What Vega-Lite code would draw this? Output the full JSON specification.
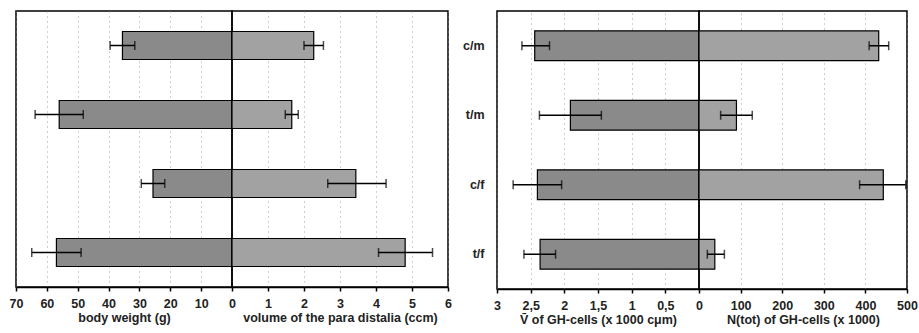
{
  "$schema": "https://vega.github.io/schema/vega-lite/v6.json",
  "background": "white",
  "padding": {"left": 8, "top": 10, "right": 0, "bottom": 5},
  "datasets": {
    "bw": [
      {"g": "c/m", "v": 35.5, "lo": 31.5, "hi": 39.5},
      {"g": "t/m", "v": 56, "lo": 48.2, "hi": 63.8},
      {"g": "c/f", "v": 25.6, "lo": 21.8, "hi": 29.4},
      {"g": "t/f", "v": 56.9, "lo": 48.9, "hi": 64.9}
    ],
    "vol": [
      {"g": "c/m", "v": 2.27, "lo": 2.0, "hi": 2.54},
      {"g": "t/m", "v": 1.66, "lo": 1.48, "hi": 1.84},
      {"g": "c/f", "v": 3.44, "lo": 2.66, "hi": 4.28},
      {"g": "t/f", "v": 4.81, "lo": 4.07, "hi": 5.57}
    ],
    "vgh": [
      {"g": "c/m", "v": 2.44, "lo": 2.22, "hi": 2.63},
      {"g": "t/m", "v": 1.91, "lo": 1.45, "hi": 2.37},
      {"g": "c/f", "v": 2.4, "lo": 2.04, "hi": 2.76},
      {"g": "t/f", "v": 2.36, "lo": 2.13, "hi": 2.6}
    ],
    "ngh": [
      {"g": "c/m", "v": 432, "lo": 409, "hi": 456},
      {"g": "t/m", "v": 90, "lo": 52, "hi": 128},
      {"g": "c/f", "v": 443, "lo": 386, "hi": 497},
      {"g": "t/f", "v": 38, "lo": 20, "hi": 61}
    ]
  },
  "config": {
    "font": "Liberation Sans",
    "view": {"stroke": "black", "strokeWidth": 1.5},
    "axis": {
      "labelFont": "Liberation Sans",
      "labelFontWeight": "bold",
      "labelFontSize": 12.5,
      "labelColor": "#222",
      "labelOverlap": false,
      "labelFlush": false,
      "titleFont": "Liberation Sans",
      "titleFontWeight": "bold",
      "titleFontSize": 12.5,
      "titleColor": "#222",
      "domainColor": "black",
      "domainWidth": 1.5,
      "tickColor": "black",
      "tickWidth": 1.5,
      "tickSize": 4,
      "gridColor": "#888",
      "gridDash": [1, 4],
      "gridWidth": 1,
      "gridOpacity": 0.8,
      "labelPadding": 6,
      "titlePadding": 2,
      "grid": true
    }
  },
  "spacing": 8,
  "hconcat": [
    {
      "spacing": 0,
      "bounds": "flush",
      "hconcat": [
        {
          "width": 216, "height": 276,
          "data": {"name": "bw"},
          "encoding": {
            "y": {"field": "g", "type": "nominal", "sort": ["c/m", "t/m", "c/f", "t/f"],
                  "scale": {"paddingInner": 0.594, "paddingOuter": 0.297},
                  "axis": null}
          },
          "layer": [
            {"mark": {"type": "bar", "fill": "#8a8a8a", "stroke": "black", "strokeWidth": 1.2},
             "encoding": {"x": {"field": "v", "type": "quantitative", "scale": {"domain": [0, 70], "reverse": true, "nice": false},
               "axis": {"values": [0, 10, 20, 30, 40, 50, 60, 70], "labelOverlap": false, "title": "body weight (g)"}}}},
            {"mark": {"type": "rule", "color": "black", "strokeWidth": 1.5},
             "encoding": {"x": {"field": "lo", "type": "quantitative", "scale": {"domain": [0, 70], "reverse": true, "nice": false},
               "axis": {"values": [0, 10, 20, 30, 40, 50, 60, 70], "labelOverlap": false, "title": "body weight (g)"}}, "x2": {"field": "hi"}}},
            {"mark": {"type": "tick", "color": "black", "thickness": 1.5, "size": 9},
             "encoding": {"x": {"field": "hi", "type": "quantitative", "scale": {"domain": [0, 70], "reverse": true, "nice": false},
               "axis": {"values": [0, 10, 20, 30, 40, 50, 60, 70], "labelOverlap": false, "title": "body weight (g)"}}}},
            {"mark": {"type": "tick", "color": "black", "thickness": 1.5, "size": 9},
             "encoding": {"x": {"field": "lo", "type": "quantitative", "scale": {"domain": [0, 70], "reverse": true, "nice": false},
               "axis": {"values": [0, 10, 20, 30, 40, 50, 60, 70], "labelOverlap": false, "title": "body weight (g)"}}}}
          ]
        },
        {
          "width": 216, "height": 276,
          "data": {"name": "vol"},
          "encoding": {
            "y": {"field": "g", "type": "nominal", "sort": ["c/m", "t/m", "c/f", "t/f"],
                  "scale": {"paddingInner": 0.594, "paddingOuter": 0.297},
                  "axis": null}
          },
          "layer": [
            {"mark": {"type": "bar", "fill": "#a2a2a2", "stroke": "black", "strokeWidth": 1.2},
             "encoding": {"x": {"field": "v", "type": "quantitative", "scale": {"domain": [0, 6], "nice": false},
               "axis": {"values": [1, 2, 3, 4, 5, 6], "labelOverlap": false, "title": "volume of the para distalia (ccm)"}}}},
            {"mark": {"type": "rule", "color": "black", "strokeWidth": 1.5},
             "encoding": {"x": {"field": "lo", "type": "quantitative", "scale": {"domain": [0, 6], "nice": false},
               "axis": {"values": [1, 2, 3, 4, 5, 6], "labelOverlap": false, "title": "volume of the para distalia (ccm)"}}, "x2": {"field": "hi"}}},
            {"mark": {"type": "tick", "color": "black", "thickness": 1.5, "size": 9},
             "encoding": {"x": {"field": "hi", "type": "quantitative", "scale": {"domain": [0, 6], "nice": false},
               "axis": {"values": [1, 2, 3, 4, 5, 6], "labelOverlap": false, "title": "volume of the para distalia (ccm)"}}}},
            {"mark": {"type": "tick", "color": "black", "thickness": 1.5, "size": 9},
             "encoding": {"x": {"field": "lo", "type": "quantitative", "scale": {"domain": [0, 6], "nice": false},
               "axis": {"values": [1, 2, 3, 4, 5, 6], "labelOverlap": false, "title": "volume of the para distalia (ccm)"}}}}
          ]
        }
      ]
    },
    {
      "spacing": 0,
      "bounds": "flush",
      "hconcat": [
        {
          "width": 202, "height": 278,
          "data": {"name": "vgh"},
          "encoding": {
            "y": {"field": "g", "type": "nominal", "sort": ["c/m", "t/m", "c/f", "t/f"],
                  "scale": {"paddingInner": 0.57, "paddingOuter": 0.285},
                  "axis": {"title": null, "ticks": false, "domain": false, "grid": false, "labelPadding": 13, "labelFontSize": 12.5}}
          },
          "layer": [
            {"mark": {"type": "bar", "fill": "#8a8a8a", "stroke": "black", "strokeWidth": 1.2},
             "encoding": {"x": {"field": "v", "type": "quantitative", "scale": {"domain": [0, 3], "reverse": true, "nice": false},
               "axis": {"values": [0, 0.5, 1, 1.5, 2, 2.5, 3], "labelOverlap": false, "labelExpr": "replace(toString(datum.value), '.', ',')", "title": "V̄ of GH-cells (x 1000 cμm)"}}}},
            {"mark": {"type": "rule", "color": "black", "strokeWidth": 1.5},
             "encoding": {"x": {"field": "lo", "type": "quantitative", "scale": {"domain": [0, 3], "reverse": true, "nice": false},
               "axis": {"values": [0, 0.5, 1, 1.5, 2, 2.5, 3], "labelOverlap": false, "labelExpr": "replace(toString(datum.value), '.', ',')", "title": "V̄ of GH-cells (x 1000 cμm)"}}, "x2": {"field": "hi"}}},
            {"mark": {"type": "tick", "color": "black", "thickness": 1.5, "size": 9},
             "encoding": {"x": {"field": "hi", "type": "quantitative", "scale": {"domain": [0, 3], "reverse": true, "nice": false},
               "axis": {"values": [0, 0.5, 1, 1.5, 2, 2.5, 3], "labelOverlap": false, "labelExpr": "replace(toString(datum.value), '.', ',')", "title": "V̄ of GH-cells (x 1000 cμm)"}}}},
            {"mark": {"type": "tick", "color": "black", "thickness": 1.5, "size": 9},
             "encoding": {"x": {"field": "lo", "type": "quantitative", "scale": {"domain": [0, 3], "reverse": true, "nice": false},
               "axis": {"values": [0, 0.5, 1, 1.5, 2, 2.5, 3], "labelOverlap": false, "labelExpr": "replace(toString(datum.value), '.', ',')", "title": "V̄ of GH-cells (x 1000 cμm)"}}}}
          ]
        },
        {
          "width": 208, "height": 278,
          "data": {"name": "ngh"},
          "encoding": {
            "y": {"field": "g", "type": "nominal", "sort": ["c/m", "t/m", "c/f", "t/f"],
                  "scale": {"paddingInner": 0.57, "paddingOuter": 0.285},
                  "axis": null}
          },
          "layer": [
            {"mark": {"type": "bar", "fill": "#a2a2a2", "stroke": "black", "strokeWidth": 1.2},
             "encoding": {"x": {"field": "v", "type": "quantitative", "scale": {"domain": [0, 500], "nice": false},
               "axis": {"values": [100, 200, 300, 400, 500], "labelOverlap": false, "title": "N(tot) of GH-cells (x 1000)"}}}},
            {"mark": {"type": "rule", "color": "black", "strokeWidth": 1.5},
             "encoding": {"x": {"field": "lo", "type": "quantitative", "scale": {"domain": [0, 500], "nice": false},
               "axis": {"values": [100, 200, 300, 400, 500], "labelOverlap": false, "title": "N(tot) of GH-cells (x 1000)"}}, "x2": {"field": "hi"}}},
            {"mark": {"type": "tick", "color": "black", "thickness": 1.5, "size": 9},
             "encoding": {"x": {"field": "hi", "type": "quantitative", "scale": {"domain": [0, 500], "nice": false},
               "axis": {"values": [100, 200, 300, 400, 500], "labelOverlap": false, "title": "N(tot) of GH-cells (x 1000)"}}}},
            {"mark": {"type": "tick", "color": "black", "thickness": 1.5, "size": 9},
             "encoding": {"x": {"field": "lo", "type": "quantitative", "scale": {"domain": [0, 500], "nice": false},
               "axis": {"values": [100, 200, 300, 400, 500], "labelOverlap": false, "title": "N(tot) of GH-cells (x 1000)"}}}}
          ]
        }
      ]
    }
  ]
}
